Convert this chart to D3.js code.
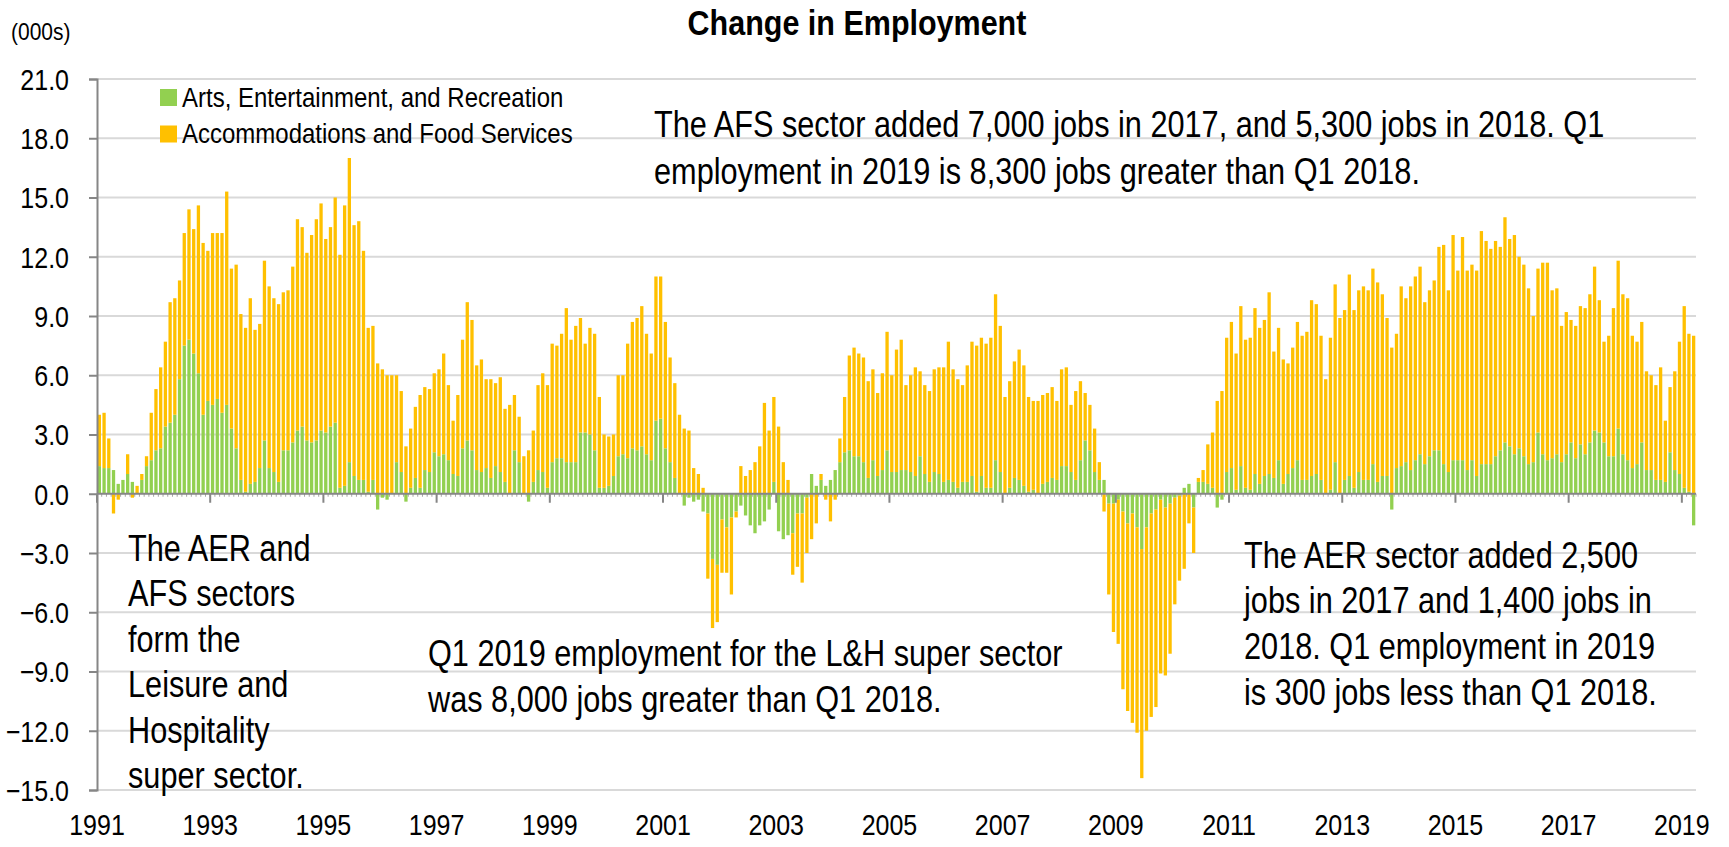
<!DOCTYPE html>
<html>
<head>
<meta charset="utf-8">
<script src="https://cdn.jsdelivr.net/npm/d3@7"></script>
<style>
  body { margin: 0; background: #ffffff; }
  svg { display: block; }
  text { font-family: "Liberation Sans", Arial, sans-serif; fill: #000; }
</style>
</head>
<body>
<svg id="chart" width="1729" height="847"></svg>
<script>
// Monthly change in employment (thousands), January 1991 – March 2019.
const firstYear = 1991;

// Arts, Entertainment, and Recreation — one row per year
const aer = [
  1.4, 1.3, 1.3, 1.2, 0.5, 0.7, 1.0, 0.6, 0.0, 0.7, 1.4, 1.7,
  2.2, 2.3, 3.4, 3.6, 4.0, 5.8, 7.5, 7.8, 7.1, 6.1, 4.0, 4.7,
  4.5, 4.8, 4.1, 4.5, 3.3, 2.3, 0.7, 0.1, 0.5, 0.6, 1.3, 2.7,
  1.3, 1.1, 0.6, 2.2, 2.2, 2.6, 3.2, 3.4, 2.7, 2.6, 2.7, 3.2,
  3.1, 3.4, 3.6, 0.3, 0.4, 1.6, 0.9, 0.7, 0.7, 0.1, 0.7, -0.8,
  -0.2, -0.3, 0.0, 1.6, 1.1, -0.4, 0.3, 0.8, 0.3, 1.2, 1.1, 2.1,
  1.9, 2.0, 1.7, 1.0, 0.9, 2.3, 2.7, 2.2, 1.2, 1.1, 1.3, 0.8,
  1.4, 1.1, 0.6, 0.0, 2.2, 1.6, 0.0, -0.4, 0.6, 1.2, 1.1, 0.3,
  1.6, 1.8, 1.8, 1.6, 1.6, 1.6, 3.1, 3.1, 3.0, 2.2, 0.3, 0.3,
  0.4, 0.9, 1.9, 2.0, 1.8, 2.3, 2.2, 2.4, 2.0, 1.7, 3.7, 3.8,
  2.3, 1.6, 0.8, 0.0, -0.6, -0.2, -0.4, -0.3, -0.9, -1.0, -3.3, -3.6,
  -1.3, -1.7, -1.2, -0.9, -0.6, -1.1, -1.6, -2.0, -1.6, -1.4, -0.8, 0.6,
  -1.9, -2.3, -2.1, -2.0, -1.0, -1.0, -0.2, 1.0, 0.4, 0.7, 0.4, 0.7,
  1.2, 1.6, 2.1, 2.2, 1.9, 1.9, 1.6, 0.8, 1.7, 0.9, 1.2, 2.2,
  1.1, 1.1, 1.2, 1.2, 1.1, 0.9, 1.9, 1.0, 0.6, 1.1, 1.0, 0.6,
  0.7, 0.6, 0.3, 0.6, 0.6, 0.9, 0.1, 0.9, 0.3, 0.3, 1.7, 1.1,
  0.0, 0.3, 0.8, 0.7, 0.4, 0.1, 0.2, 0.0, 0.5, 0.6, 0.8, 0.7,
  1.4, 1.4, 1.1, 0.7, 1.7, 2.7, 2.2, 1.1, 0.7, 0.7, -0.5, -0.5,
  -0.3, -0.9, -1.5, -1.0, -1.7, -2.8, -1.7, -1.0, -0.8, -0.3, -0.7, -0.5,
  -0.2, -0.1, 0.3, 0.5, -0.7, 0.6, 0.6, 0.5, 0.3, -0.7, -0.3, 1.1,
  1.3, 0.2, 1.4, 0.3, 0.2, 1.0, 0.5, 0.9, 1.0, 0.8, 1.7, 0.5,
  1.0, 1.3, 1.7, 0.7, 0.7, 0.9, 1.0, 0.7, 0.0, 0.2, 1.6, 0.0,
  0.7, 0.9, 0.3, 1.1, 0.7, 0.7, 1.5, 0.6, 0.9, 0.9, -0.8, 1.3,
  1.4, 1.6, 1.2, 1.7, 2.0, 1.5, 1.9, 2.2, 2.2, 1.5, 1.1, 1.7,
  1.7, 1.7, 1.2, 1.7, 0.9, 1.5, 1.5, 1.5, 1.9, 2.2, 2.6, 2.4,
  2.0, 2.3, 1.9, 1.5, 1.6, 3.1, 2.0, 1.7, 1.8, 2.0, 1.6, 2.0,
  2.6, 1.8, 2.5, 2.0, 2.6, 3.2, 3.1, 2.6, 1.9, 1.9, 3.3, 2.0,
  1.7, 1.3, 1.5, 2.6, 1.2, 1.2, 0.7, 0.7, 0.6, 2.1, 1.2, 1.0,
  0.3, 0.1, -1.6
];

// Accommodations and Food Services — one row per year
const afs = [
  2.6, 2.8, 1.5, -1.0, -0.3, 0.0, 1.0, -0.2, 0.4, 0.3, 0.5, 2.4,
  3.1, 4.1, 4.3, 6.1, 5.9, 5.0, 5.7, 6.6, 6.3, 8.5, 8.7, 7.6,
  8.7, 8.4, 9.1, 10.8, 8.1, 9.3, 8.4, 8.3, 9.4, 7.7, 7.3, 9.1,
  9.2, 8.8, 9.0, 8.0, 8.1, 8.9, 10.7, 10.1, 9.5, 10.5, 11.2, 11.5,
  9.8, 10.1, 11.4, 11.8, 14.2, 15.4, 12.7, 13.1, 11.6, 8.3, 7.8, 6.6,
  6.3, 6.0, 6.0, 4.4, 4.1, 2.4, 3.0, 3.6, 4.7, 4.2, 4.2, 4.0,
  4.4, 5.1, 3.8, 2.7, 4.1, 5.5, 7.0, 6.6, 5.3, 5.7, 4.5, 5.0,
  4.2, 4.8, 3.7, 4.5, 2.8, 2.3, 1.9, 2.2, 2.6, 4.3, 5.0, 5.2,
  6.0, 5.7, 6.3, 7.8, 6.2, 6.9, 5.8, 4.5, 5.4, 5.9, 4.6, 2.7,
  2.5, 2.1, 4.1, 4.0, 5.8, 6.4, 6.7, 7.1, 6.1, 5.4, 7.3, 7.2,
  6.4, 5.3, 4.8, 4.0, 3.3, 3.2, 1.3, 1.0, 0.3, -3.3, -3.5, -2.9,
  -2.7, -2.3, -3.9, -0.3, 1.4, 0.9, 1.2, 1.6, 2.4, 4.6, 3.2, 4.3,
  3.4, 1.6, 0.7, -2.1, -2.7, -3.5, -2.8, -2.3, -1.5, 0.3, -0.3, -1.4,
  -0.3, 1.2, 2.8, 4.8, 5.5, 5.2, 5.3, 4.9, 4.6, 4.2, 4.9, 6.0,
  4.9, 6.2, 6.6, 4.3, 4.9, 5.5, 4.3, 4.5, 4.6, 5.2, 5.4, 5.8,
  7.0, 5.7, 5.5, 4.9, 5.9, 6.8, 7.4, 7.0, 7.3, 7.6, 8.4, 7.4,
  4.9, 5.4, 5.9, 6.6, 6.1, 4.8, 4.5, 4.7, 4.5, 4.5, 4.6, 4.0,
  4.9, 5.0, 3.4, 4.5, 4.0, 2.4, 2.3, 2.2, 0.9, -0.9, -4.6, -6.5,
  -7.3, -9.0, -9.5, -10.6, -10.4, -11.6, -10.3, -10.3, -10.0, -8.8, -8.5, -7.6,
  -5.4, -4.3, -3.8, -1.5, -2.3, 0.2, 0.6, 2.0, 2.8, 4.7, 5.2, 6.8,
  7.4, 6.9, 8.1, 7.5, 7.7, 8.4, 7.9, 7.9, 9.2, 6.4, 6.7, 6.3,
  5.6, 6.1, 7.0, 7.3, 7.5, 8.9, 8.6, 7.3, 5.8, 7.7, 9.0, 8.9,
  8.6, 10.2, 9.0, 9.2, 9.8, 9.6, 9.9, 10.1, 9.2, 8.0, 7.4, 6.8,
  9.1, 8.3, 9.3, 9.3, 9.5, 8.2, 8.4, 8.6, 10.3, 11.1, 9.2, 11.4,
  9.6, 11.3, 10.1, 9.9, 10.4, 11.8, 11.3, 10.9, 10.9, 10.3, 11.4, 10.5,
  11.1, 9.7, 9.7, 8.9, 7.4, 8.3, 9.7, 10.0, 8.5, 8.4, 6.9, 7.2,
  6.2, 6.7, 7.0, 7.4, 7.5, 8.3, 6.7, 5.1, 6.1, 7.5, 8.5, 8.1,
  8.2, 6.7, 6.2, 6.1, 5.0, 4.8, 4.8, 5.7, 3.1, 3.3, 5.0, 6.7,
  9.2, 8.0, 8.0
];

const seriesKeys   = ["aer", "afs"];
const seriesNames  = ["Arts, Entertainment, and Recreation", "Accommodations and Food Services"];
const seriesColors = ["#92D050", "#FFC000"];

const yTickValues = [21, 18, 15, 12, 9, 6, 3, 0, -3, -6, -9, -12, -15];
const yearLabels  = [1991, 1993, 1995, 1997, 1999, 2001, 2003, 2005, 2007, 2009, 2011, 2013, 2015, 2017, 2019];

const noteAFS   = ["The AFS sector added 7,000 jobs in 2017, and 5,300 jobs in 2018. Q1",
                   "employment in 2019 is 8,300 jobs greater than Q1 2018."];
const noteLH    = ["The AER and", "AFS sectors", "form the", "Leisure and", "Hospitality", "super sector."];
const noteQ1    = ["Q1 2019 employment for the L&H super sector", "was 8,000 jobs greater than Q1 2018."];
const noteAER   = ["The AER sector added 2,500", "jobs in 2017 and 1,400 jobs in",
                   "2018. Q1 employment in 2019", "is 300 jobs less than Q1 2018."];

// ---- layout ----
const svg = d3.select("#chart");
const plot = { left: 97, right: 1696, top: 79, bottom: 790 };
const n = aer.length;
const tall = 1.18;   // lettering is drawn slightly condensed (taller than wide)

const months = d3.range(n);                        // month index from Jan 1991
const table = months.map(i => ({ month: i, aer: aer[i], afs: afs[i] }));

const x = d3.scaleBand().domain(months).range([plot.left, plot.right])
  .paddingInner(0.3).paddingOuter(0.15);
const xMonth = d3.scaleLinear().domain([0, n]).range([plot.left, plot.right]);
const y = d3.scaleLinear().domain([-15, 21]).range([plot.bottom, plot.top]);

const fmt = d3.format(".1f");

// place a text centred vertically on (x, y), stretched vertically
function label(parent, x0, y0, str, size, anchor, weight) {
  return parent.append("text")
    .attr("transform", `translate(${x0},${y0}) scale(1,${tall})`)
    .attr("dy", "0.35em")
    .attr("text-anchor", anchor || "start")
    .style("font-size", size + "px")
    .style("font-weight", weight || "normal")
    .text(str);
}

// gridlines
svg.append("g").selectAll("line").data(yTickValues.filter(v => v !== 0)).join("line")
  .attr("x1", plot.left).attr("x2", plot.right)
  .attr("y1", d => y(d)).attr("y2", d => y(d))
  .attr("stroke", "#d9d9d9").attr("stroke-width", 2);

// stacked bars (positive values stack upward, negative downward)
const stacked = d3.stack().keys(seriesKeys).offset(d3.stackOffsetDiverging)(table);
svg.append("g").selectAll("g").data(stacked).join("g")
  .attr("fill", (d, i) => seriesColors[i])
  .selectAll("rect").data(d => d).join("rect")
  .attr("x", d => x(d.data.month))
  .attr("width", x.bandwidth())
  .attr("y", d => y(Math.max(d[0], d[1])))
  .attr("height", d => Math.abs(y(d[0]) - y(d[1])));

// y axis
const yAxis = d3.axisLeft(y).tickValues(yTickValues).tickFormat(fmt).tickSize(8).tickPadding(20);
const gy = svg.append("g").attr("transform", `translate(${plot.left},0)`).call(yAxis);
gy.select(".domain").attr("stroke", "#868686").attr("stroke-width", 2);
gy.selectAll(".tick line").attr("stroke", "#868686").attr("stroke-width", 2);
gy.selectAll(".tick text")
  .style("font-size", "25px").attr("font-family", null)
  .attr("dy", "0.35em").attr("transform", `scale(1,${tall})`);

// zero line with monthly minor ticks and two-year major ticks
const zeroY = y(0);
const gx = svg.append("g");
gx.selectAll("line.minor").data(d3.range(0, n + 1)).join("line")
  .attr("class", "minor")
  .attr("x1", d => xMonth(d)).attr("x2", d => xMonth(d))
  .attr("y1", zeroY).attr("y2", zeroY + 3)
  .attr("stroke", "#a6a6a6").attr("stroke-width", 1);
gx.selectAll("line.major").data(yearLabels).join("line")
  .attr("class", "major")
  .attr("x1", d => xMonth((d - firstYear) * 12)).attr("x2", d => xMonth((d - firstYear) * 12))
  .attr("y1", zeroY).attr("y2", zeroY + 9)
  .attr("stroke", "#868686").attr("stroke-width", 2);
gx.append("line")
  .attr("x1", plot.left).attr("x2", plot.right)
  .attr("y1", zeroY).attr("y2", zeroY)
  .attr("stroke", "#868686").attr("stroke-width", 2);

// year labels along the bottom
const gYears = svg.append("g");
yearLabels.forEach(yr => label(gYears, xMonth((yr - firstYear) * 12), 825, yr, 25, "middle"));

// title and unit
label(svg, 857, 22, "Change in Employment", 30.5, "middle", "bold");
label(svg, 11, 31, "(000s)", 21);

// legend
const legend = svg.append("g").selectAll("g").data(seriesNames).join("g")
  .attr("transform", (d, i) => `translate(160, ${97 + i * 36.5})`);
legend.append("rect").attr("x", 0).attr("y", -8).attr("width", 17).attr("height", 17)
  .attr("fill", (d, i) => seriesColors[i]);
legend.each(function (d) { label(d3.select(this), 22, 0, d, 24); });

// annotations
function note(lines, x0, y0, step) {
  const g = svg.append("g");
  lines.forEach((line, i) => label(g, x0, y0 + i * step, line, 30.7));
}
note(noteAFS, 654, 124, 47);
note(noteLH, 128, 548, 45.5);
note(noteQ1, 428, 653, 46);
note(noteAER, 1244, 555, 45.7);
</script>
</body>
</html>
